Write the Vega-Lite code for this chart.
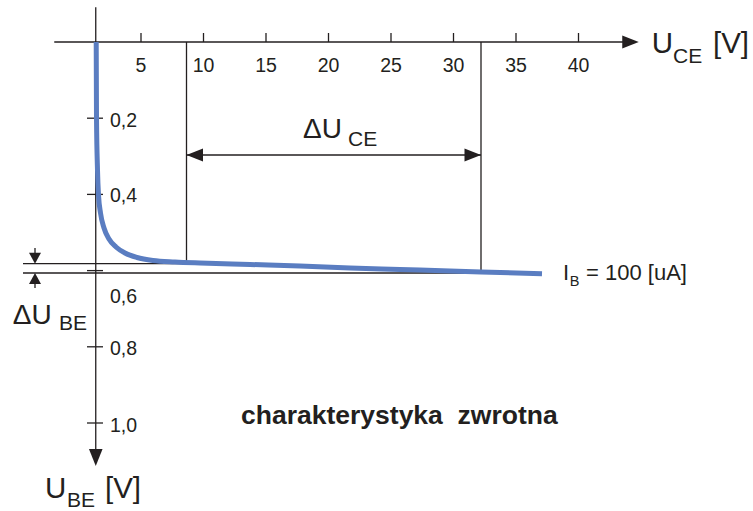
{
  "$schema": "https://vega.github.io/schema/vega-lite/v6.json",
  "width": 753,
  "height": 511,
  "autosize": {"type": "none"},
  "padding": 0,
  "background": "white",
  "config": {"view": {"stroke": null}},
  "encoding": {
    "x": {"field": "v", "type": "quantitative", "scale": {"domain": [-6.28, 53.96], "nice": false, "zero": false}, "axis": null},
    "y": {"field": "u", "type": "quantitative", "scale": {"domain": [-0.110236, 1.230971], "nice": false, "zero": false, "reverse": true}, "axis": null}
  },
  "layer": [
    {
      "data": {"values": [
        {"part": "x axis", "v": -1.94, "u": 0, "v2": 43.6, "u2": 0},
        {"part": "y axis", "v": 1.38, "u": -0.091, "v2": 1.38, "u2": 1.075},
        {"part": "dim left", "v": 8.64, "u": 0, "v2": 8.64, "u2": 0.58},
        {"part": "dim right", "v": 32.2, "u": 0, "v2": 32.2, "u2": 0.605},
        {"part": "dUce", "v": 8.64, "u": 0.2966, "v2": 32.2, "u2": 0.2966},
        {"part": "dUbe upper", "v": -4.44, "u": 0.5819, "v2": 8.64, "u2": 0.5819},
        {"part": "dUbe lower", "v": -4.44, "u": 0.6063, "v2": 32.2, "u2": 0.6063},
        {"part": "dUbe stem top", "v": -3.48, "u": 0.5407, "v2": -3.48, "u2": 0.556},
        {"part": "dUbe stem bottom", "v": -3.48, "u": 0.63, "v2": -3.48, "u2": 0.6457},
        {"part": "xtick", "v": 5, "u": -0.0236, "v2": 5, "u2": 0},
        {"part": "xtick", "v": 10, "u": -0.0236, "v2": 10, "u2": 0},
        {"part": "xtick", "v": 15, "u": -0.0236, "v2": 15, "u2": 0},
        {"part": "xtick", "v": 20, "u": -0.0236, "v2": 20, "u2": 0},
        {"part": "xtick", "v": 25, "u": -0.0236, "v2": 25, "u2": 0},
        {"part": "xtick", "v": 30, "u": -0.0236, "v2": 30, "u2": 0},
        {"part": "xtick", "v": 35, "u": -0.0236, "v2": 35, "u2": 0},
        {"part": "xtick", "v": 40, "u": -0.0236, "v2": 40, "u2": 0},
        {"part": "ytick", "v": 0.68, "u": 0.2, "v2": 1.96, "u2": 0.2},
        {"part": "ytick", "v": 0.68, "u": 0.4, "v2": 1.96, "u2": 0.4},
        {"part": "ytick", "v": 0.68, "u": 0.6, "v2": 1.96, "u2": 0.6},
        {"part": "ytick", "v": 0.68, "u": 0.8, "v2": 1.96, "u2": 0.8},
        {"part": "ytick", "v": 0.68, "u": 1.0, "v2": 1.96, "u2": 1.0}
      ]},
      "mark": {"type": "rule", "color": "#231f20", "strokeWidth": 1.3},
      "encoding": {"x2": {"field": "v2"}, "y2": {"field": "u2"}}
    },
    {
      "data": {"values": [
        {"v": 1.416, "u": 0}, {"v": 1.44, "u": 0.1995}, {"v": 1.52, "u": 0.336},
        {"v": 1.6, "u": 0.4016}, {"v": 1.76, "u": 0.4488}, {"v": 2.04, "u": 0.4882},
        {"v": 2.44, "u": 0.5171}, {"v": 3.0, "u": 0.5381}, {"v": 3.72, "u": 0.5538},
        {"v": 4.68, "u": 0.5656}, {"v": 5.96, "u": 0.5735}, {"v": 7.72, "u": 0.5774},
        {"v": 9.72, "u": 0.5801}, {"v": 13.72, "u": 0.584}, {"v": 17.72, "u": 0.5879},
        {"v": 21.72, "u": 0.5932}, {"v": 25.72, "u": 0.5971}, {"v": 29.72, "u": 0.601},
        {"v": 32.2, "u": 0.6037}, {"v": 37.08, "u": 0.6084}
      ]},
      "mark": {"type": "line", "color": "#5a7dc1", "strokeWidth": 5, "interpolate": "monotone", "strokeCap": "butt"}
    },
    {
      "data": {"values": [{"v": 44.16, "u": 0}, {"v": 31.54, "u": 0.2966}]},
      "mark": {"type": "point", "shape": "M1,0L-1,-0.8L-1,0.8Z", "size": 272, "filled": true, "opacity": 1, "color": "#231f20", "strokeWidth": 0}
    },
    {
      "data": {"values": [{"v": 9.3, "u": 0.2966}]},
      "mark": {"type": "point", "shape": "M-1,0L1,-0.8L1,0.8Z", "size": 272, "filled": true, "opacity": 1, "color": "#231f20", "strokeWidth": 0}
    },
    {
      "data": {"values": [{"v": 1.38, "u": 1.0906}]},
      "mark": {"type": "point", "shape": "M0,1L-0.8,-1L0.8,-1Z", "size": 289, "filled": true, "opacity": 1, "color": "#231f20", "strokeWidth": 0}
    },
    {
      "data": {"values": [{"v": -3.48, "u": 0.5674}]},
      "mark": {"type": "point", "shape": "M0,1L-1.09,-1L1.09,-1Z", "size": 121, "filled": true, "opacity": 1, "color": "#231f20", "strokeWidth": 0}
    },
    {
      "data": {"values": [{"v": -3.48, "u": 0.6207}]},
      "mark": {"type": "point", "shape": "M0,-1L-1.09,1L1.09,1Z", "size": 121, "filled": true, "opacity": 1, "color": "#231f20", "strokeWidth": 0}
    },
    {
      "data": {"values": [
        {"t": "5", "v": 5, "u": 0.0787}, {"t": "10", "v": 10, "u": 0.0787},
        {"t": "15", "v": 15, "u": 0.0787}, {"t": "20", "v": 20, "u": 0.0787},
        {"t": "25", "v": 25, "u": 0.0787}, {"t": "30", "v": 30, "u": 0.0787},
        {"t": "35", "v": 35, "u": 0.0787}, {"t": "40", "v": 40, "u": 0.0787}
      ]},
      "mark": {"type": "text", "align": "center", "baseline": "alphabetic", "font": "Liberation Sans", "fontSize": 19.5, "color": "#231f20"},
      "encoding": {"text": {"field": "t"}}
    },
    {
      "data": {"values": [
        {"t": "0,2", "v": 2.52, "u": 0.2231}, {"t": "0,4", "v": 2.52, "u": 0.4192},
        {"t": "0,6", "v": 2.52, "u": 0.686}, {"t": "0,8", "v": 2.52, "u": 0.8215},
        {"t": "1,0", "v": 2.52, "u": 1.0228}
      ]},
      "mark": {"type": "text", "align": "left", "baseline": "alphabetic", "font": "Liberation Sans", "fontSize": 19.5, "color": "#231f20"},
      "encoding": {"text": {"field": "t"}}
    },
    {
      "data": {"values": [
        {"t": "U", "v": 45.86, "u": 0.0289}, {"t": "[V]", "v": 50.76, "u": 0.0289},
        {"t": "U", "v": -2.68, "u": 1.197}, {"t": "[V]", "v": 2.12, "u": 1.197}
      ]},
      "mark": {"type": "text", "align": "left", "baseline": "alphabetic", "font": "Liberation Sans", "fontSize": 29.5, "color": "#231f20"},
      "encoding": {"text": {"field": "t"}}
    },
    {
      "data": {"values": [
        {"t": "ΔU", "v": 17.96, "u": 0.252}, {"t": "ΔU", "v": -5.26, "u": 0.74}
      ]},
      "mark": {"type": "text", "align": "left", "baseline": "alphabetic", "font": "Liberation Sans", "fontSize": 28, "color": "#231f20"},
      "encoding": {"text": {"field": "t"}}
    },
    {
      "data": {"values": [
        {"t": "CE", "v": 47.56, "u": 0.0551}, {"t": "CE", "v": 21.56, "u": 0.273},
        {"t": "BE", "v": -1.56, "u": 0.756}, {"t": "BE", "v": -0.92, "u": 1.22}
      ]},
      "mark": {"type": "text", "align": "left", "baseline": "alphabetic", "font": "Liberation Sans", "fontSize": 21, "color": "#231f20"},
      "encoding": {"text": {"field": "t"}}
    },
    {
      "data": {"values": [
        {"t": "I", "v": 38.76, "u": 0.6247}, {"t": "= 100 [uA]", "v": 40.6, "u": 0.6247}
      ]},
      "mark": {"type": "text", "align": "left", "baseline": "alphabetic", "font": "Liberation Sans", "fontSize": 22, "color": "#231f20"},
      "encoding": {"text": {"field": "t"}}
    },
    {
      "data": {"values": [{"t": "B", "v": 39.3, "u": 0.6404}]},
      "mark": {"type": "text", "align": "left", "baseline": "alphabetic", "font": "Liberation Sans", "fontSize": 14.5, "color": "#231f20"},
      "encoding": {"text": {"field": "t"}}
    },
    {
      "data": {"values": [{"t": "charakterystyka\u00a0 zwrotna", "v": 13.0, "u": 1.0026}]},
      "mark": {"type": "text", "align": "left", "baseline": "alphabetic", "font": "Liberation Sans", "fontSize": 26.5, "fontWeight": "bold", "color": "#231f20"},
      "encoding": {"text": {"field": "t"}}
    }
  ]
}
